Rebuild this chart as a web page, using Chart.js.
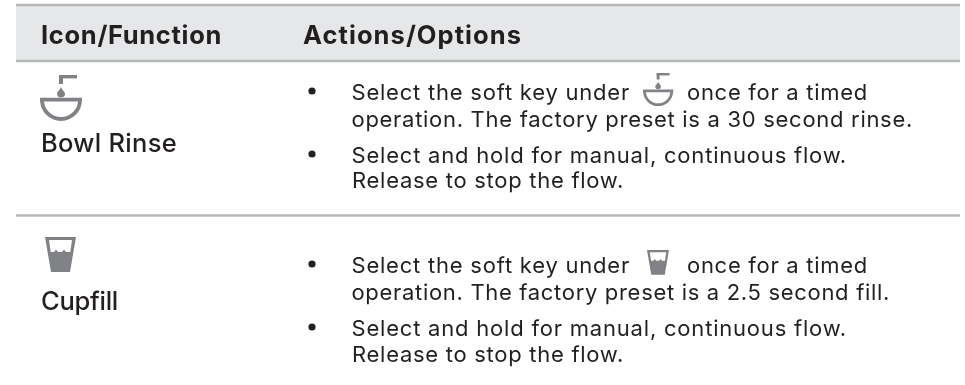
<!DOCTYPE html>
<html lang="en">
<head>
<meta charset="UTF-8">
<title>Icon/Function table</title>
<style>
  html, body { margin: 0; padding: 0; background: #fff; }
  canvas { display: block; }
</style>
<script src="https://cdn.jsdelivr.net/npm/chart.js"></script>
</head>
<body>
<canvas id="tableChart" width="965" height="385"></canvas>
<script>
const headers = ['Icon/Function', 'Actions/Options'];
const functionNames = ['Bowl Rinse', 'Cupfill'];
const bowlActions = ['Select the soft key under', 'once for a timed', 'operation. The factory preset is a 30 second rinse.', 'Select and hold for manual, continuous flow.', 'Release to stop the flow.'];
const cupActions = ['Select the soft key under', 'once for a timed', 'operation. The factory preset is a 2.5 second fill.', 'Select and hold for manual, continuous flow.', 'Release to stop the flow.'];

// the hidden axes run 0-965 and 0-385, so one axis unit is one page pixel
const ruleRows = [5, 61, 215.5];
const ruleStart = 16, ruleEnd = 960;
const bulletColumn = 312;
const bulletRows = [91, 154, 264, 327];

const ink = '#231f20', iconGrey = '#808285';
const bodyFont = '22px Inter';
const headFont = '700 25.5px Inter';
const nameFont = '500 25.5px Inter';

// [text, font, x, baseline, right edge the text is fitted to]
const textRuns = [
  [headers[0], headFont, 41, 43.5, 222],
  [headers[1], headFont, 303, 43.5, 522],
  [functionNames[0], nameFont, 41, 152, 177],
  [functionNames[1], nameFont, 41, 310, 118],
  [bowlActions[0], bodyFont, 351.5, 100, 630],
  [bowlActions[1], bodyFont, 687, 100, 868],
  [bowlActions[2], bodyFont, 351.5, 127, 913],
  [bowlActions[3], bodyFont, 351.5, 163, 847],
  [bowlActions[4], bodyFont, 352, 188, 624],
  [cupActions[0], bodyFont, 351.5, 273, 630],
  [cupActions[1], bodyFont, 687, 273, 868],
  [cupActions[2], bodyFont, 351.5, 300, 890],
  [cupActions[3], bodyFont, 351.5, 336, 847],
  [cupActions[4], bodyFont, 352, 362, 624]
];

function drawBowl(ctx, x, y, s) {
  ctx.save();
  ctx.translate(x, y);
  ctx.scale(s, s);
  ctx.fillStyle = iconGrey;
  ctx.strokeStyle = iconGrey;
  ctx.fillRect(19, 0, 18, 3.4);
  ctx.fillRect(19, 0, 4, 9);
  ctx.beginPath();
  ctx.moveTo(21, 12);
  ctx.bezierCurveTo(22, 15, 25, 17, 25, 18.5);
  ctx.arc(21, 18.5, 4, 0, Math.PI);
  ctx.bezierCurveTo(17, 17, 20, 15, 21, 12);
  ctx.fill();
  ctx.lineWidth = 3.8;
  ctx.beginPath();
  ctx.moveTo(0, 24.7);
  ctx.lineTo(42, 24.7);
  ctx.moveTo(2, 25);
  ctx.arc(21, 25, 19, Math.PI, 0, true);
  ctx.stroke();
  ctx.restore();
}

function drawCup(ctx, x, y, s) {
  const wall = [[0, 0], [31, 0], [25, 35], [6, 35]];
  const air = [[4, 3], [27, 3], [25.3, 15], [21, 15], [19, 12.5], [17, 15], [13, 15], [11, 12.5], [9, 15], [5.7, 15]];
  const poly = (pts, color) => {
    ctx.fillStyle = color;
    ctx.beginPath();
    pts.forEach((p, i) => i ? ctx.lineTo(p[0], p[1]) : ctx.moveTo(p[0], p[1]));
    ctx.closePath();
    ctx.fill();
  };
  ctx.save();
  ctx.translate(x, y);
  ctx.scale(s, s);
  poly(wall, iconGrey);
  poly(air, '#fff');
  ctx.restore();
}

const tableCells = {
  id: 'tableCells',
  beforeDatasetsDraw(chart) {
    const { ctx, scales: { x, y } } = chart;
    ctx.save();
    ctx.fillStyle = '#e6e7e8';
    ctx.fillRect(x.getPixelForValue(ruleStart), y.getPixelForValue(ruleRows[0]),
      x.getPixelForValue(ruleEnd) - x.getPixelForValue(ruleStart),
      y.getPixelForValue(ruleRows[1]) - y.getPixelForValue(ruleRows[0]));
    ctx.restore();
  },
  afterDatasetsDraw(chart) {
    const { ctx, scales: { x, y } } = chart;
    ctx.save();
    ctx.fillStyle = ink;
    ctx.textBaseline = 'alphabetic';
    textRuns.forEach(([text, font, left, baseline, right]) => {
      ctx.font = font;
      ctx.letterSpacing = '0px';
      const spare = right - left - ctx.measureText(text).width;
      ctx.letterSpacing = (spare / text.length).toFixed(3) + 'px';
      ctx.fillText(text, x.getPixelForValue(left), y.getPixelForValue(baseline));
    });
    ctx.restore();
    drawBowl(ctx, x.getPixelForValue(40), y.getPixelForValue(75), 1);
    drawBowl(ctx, x.getPixelForValue(643), y.getPixelForValue(73), 0.72);
    drawCup(ctx, x.getPixelForValue(45), y.getPixelForValue(237), 1);
    drawCup(ctx, x.getPixelForValue(647), y.getPixelForValue(250), 0.71);
  }
};

const ruleSets = ruleRows.map(row => ({
  type: 'line',
  data: [{ x: ruleStart, y: row }, { x: ruleEnd, y: row }],
  borderColor: '#b5b6b8',
  borderWidth: 2.5,
  pointRadius: 0
}));

new Chart(document.getElementById('tableChart'), {
  type: 'scatter',
  data: {
    datasets: [...ruleSets, {
      data: bulletRows.map(row => ({ x: bulletColumn, y: row })),
      backgroundColor: ink,
      borderWidth: 0,
      pointRadius: 3.6
    }]
  },
  options: {
    responsive: false,
    animation: false,
    events: [],
    layout: { padding: 0, autoPadding: false },
    plugins: { legend: { display: false }, tooltip: { enabled: false } },
    scales: {
      x: { display: false, min: 0, max: 965 },
      y: { display: false, min: 0, max: 385, reverse: true }
    }
  },
  plugins: [tableCells]
});
</script>
</body>
</html>
